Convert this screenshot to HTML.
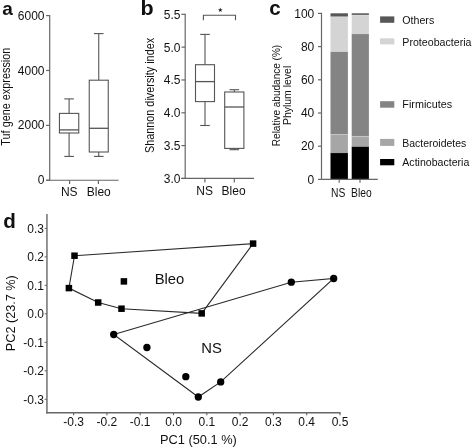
<!DOCTYPE html>
<html><head><meta charset="utf-8"><style>
html,body{margin:0;padding:0;background:#fff;width:472px;height:448px;overflow:hidden}
svg{display:block;font-family:"Liberation Sans",sans-serif;filter:grayscale(1)}
text{fill:#111111}
</style></head><body>
<svg width="472" height="448" viewBox="0 0 472 448">
<line x1="49.7" y1="15" x2="49.7" y2="180.85" stroke="#666666" stroke-width="1.2"/>
<line x1="46.1" y1="15.6" x2="49.7" y2="15.6" stroke="#666666" stroke-width="1.2"/>
<line x1="46.1" y1="70.48" x2="49.7" y2="70.48" stroke="#666666" stroke-width="1.2"/>
<line x1="46.1" y1="125.37" x2="49.7" y2="125.37" stroke="#666666" stroke-width="1.2"/>
<line x1="46.1" y1="180.25" x2="49.7" y2="180.25" stroke="#666666" stroke-width="1.2"/>
<line x1="46.1" y1="180.25" x2="118.6" y2="180.25" stroke="#666666" stroke-width="1.2"/>
<line x1="69.6" y1="180.25" x2="69.6" y2="183.9" stroke="#666666" stroke-width="1.2"/>
<line x1="98.4" y1="180.25" x2="98.4" y2="183.9" stroke="#666666" stroke-width="1.2"/>
<rect x="59.45" y="113.4" width="19.3" height="19.6" fill="none" stroke="#555555" stroke-width="1.1"/>
<line x1="59.45" y1="129.9" x2="78.75" y2="129.9" stroke="#555555" stroke-width="1.3"/>
<line x1="69.1" y1="98.9" x2="69.1" y2="113.4" stroke="#555555" stroke-width="1.1"/>
<line x1="69.1" y1="133" x2="69.1" y2="156.4" stroke="#555555" stroke-width="1.1"/>
<line x1="64.3" y1="98.9" x2="73.9" y2="98.9" stroke="#555555" stroke-width="1.1"/>
<line x1="64.3" y1="156.4" x2="73.9" y2="156.4" stroke="#555555" stroke-width="1.1"/>
<rect x="89.25" y="80.2" width="19" height="71.8" fill="none" stroke="#555555" stroke-width="1.1"/>
<line x1="89.25" y1="128.3" x2="108.25" y2="128.3" stroke="#555555" stroke-width="1.3"/>
<line x1="98.75" y1="33.6" x2="98.75" y2="80.2" stroke="#555555" stroke-width="1.1"/>
<line x1="98.75" y1="152" x2="98.75" y2="156.4" stroke="#555555" stroke-width="1.1"/>
<line x1="93.95" y1="33.6" x2="103.55" y2="33.6" stroke="#555555" stroke-width="1.1"/>
<line x1="93.95" y1="156.4" x2="103.55" y2="156.4" stroke="#555555" stroke-width="1.1"/>
<line x1="185.2" y1="13.7" x2="185.2" y2="179.05" stroke="#666666" stroke-width="1.2"/>
<line x1="181.4" y1="14.3" x2="185.2" y2="14.3" stroke="#666666" stroke-width="1.2"/>
<line x1="181.4" y1="47.13" x2="185.2" y2="47.13" stroke="#666666" stroke-width="1.2"/>
<line x1="181.4" y1="79.96" x2="185.2" y2="79.96" stroke="#666666" stroke-width="1.2"/>
<line x1="181.4" y1="112.79" x2="185.2" y2="112.79" stroke="#666666" stroke-width="1.2"/>
<line x1="181.4" y1="145.62" x2="185.2" y2="145.62" stroke="#666666" stroke-width="1.2"/>
<line x1="181.4" y1="178.45" x2="185.2" y2="178.45" stroke="#666666" stroke-width="1.2"/>
<line x1="181.4" y1="178.45" x2="254" y2="178.45" stroke="#666666" stroke-width="1.2"/>
<line x1="204.9" y1="178.45" x2="204.9" y2="182.4" stroke="#666666" stroke-width="1.2"/>
<line x1="234.3" y1="178.45" x2="234.3" y2="182.4" stroke="#666666" stroke-width="1.2"/>
<rect x="195.5" y="64.7" width="19" height="36.9" fill="none" stroke="#555555" stroke-width="1.1"/>
<line x1="195.5" y1="81.6" x2="214.5" y2="81.6" stroke="#555555" stroke-width="1.3"/>
<line x1="205" y1="34.4" x2="205" y2="64.7" stroke="#555555" stroke-width="1.1"/>
<line x1="205" y1="101.6" x2="205" y2="125.5" stroke="#555555" stroke-width="1.1"/>
<line x1="200.2" y1="34.4" x2="209.8" y2="34.4" stroke="#555555" stroke-width="1.1"/>
<line x1="200.2" y1="125.5" x2="209.8" y2="125.5" stroke="#555555" stroke-width="1.1"/>
<rect x="224.7" y="92" width="19.2" height="56.4" fill="none" stroke="#555555" stroke-width="1.1"/>
<line x1="224.7" y1="107" x2="243.9" y2="107" stroke="#555555" stroke-width="1.3"/>
<line x1="234.3" y1="89.7" x2="234.3" y2="92" stroke="#555555" stroke-width="1.1"/>
<line x1="234.3" y1="148.4" x2="234.3" y2="149.7" stroke="#555555" stroke-width="1.1"/>
<line x1="229.5" y1="89.7" x2="239.1" y2="89.7" stroke="#555555" stroke-width="1.1"/>
<line x1="229.5" y1="149.7" x2="239.1" y2="149.7" stroke="#555555" stroke-width="1.1"/>
<path d="M203.4 20.3 V15.3 H235.5 V20.3" fill="none" stroke="#555555" stroke-width="1.1"/>
<polygon points="220.30,7.50 220.92,9.15 222.68,9.23 221.30,10.32 221.77,12.02 220.30,11.05 218.83,12.02 219.30,10.32 217.92,9.23 219.68,9.15" fill="#222"/>
<rect x="330.5" y="13.3" width="17.4" height="3.5" fill="#575757"/>
<rect x="330.5" y="16.8" width="17.4" height="34.8" fill="#d4d4d4"/>
<rect x="330.5" y="51.6" width="17.4" height="82.9" fill="#848484"/>
<rect x="330.5" y="134.5" width="17.4" height="18.3" fill="#a6a6a6"/>
<rect x="330.5" y="152.8" width="17.4" height="26.4" fill="#000000"/>
<rect x="330.5" y="16.4" width="17.4" height="0.8" fill="#fff" fill-opacity="0.3"/>
<rect x="330.5" y="51.2" width="17.4" height="0.8" fill="#fff" fill-opacity="0.3"/>
<rect x="330.5" y="134.1" width="17.4" height="0.8" fill="#fff" fill-opacity="0.3"/>
<rect x="330.5" y="152.4" width="17.4" height="0.8" fill="#fff" fill-opacity="0.3"/>
<rect x="351.7" y="13.3" width="17.2" height="1.7" fill="#575757"/>
<rect x="351.7" y="15" width="17.2" height="18.8" fill="#d4d4d4"/>
<rect x="351.7" y="33.8" width="17.2" height="102.5" fill="#848484"/>
<rect x="351.7" y="136.3" width="17.2" height="10.2" fill="#a6a6a6"/>
<rect x="351.7" y="146.5" width="17.2" height="32.7" fill="#000000"/>
<rect x="351.7" y="14.6" width="17.2" height="0.8" fill="#fff" fill-opacity="0.3"/>
<rect x="351.7" y="33.4" width="17.2" height="0.8" fill="#fff" fill-opacity="0.3"/>
<rect x="351.7" y="135.9" width="17.2" height="0.8" fill="#fff" fill-opacity="0.3"/>
<rect x="351.7" y="146.1" width="17.2" height="0.8" fill="#fff" fill-opacity="0.3"/>
<line x1="321.5" y1="12.8" x2="321.5" y2="179.4" stroke="#666666" stroke-width="1.2"/>
<line x1="318" y1="13.4" x2="321.5" y2="13.4" stroke="#666666" stroke-width="1.2"/>
<line x1="318" y1="46.6" x2="321.5" y2="46.6" stroke="#666666" stroke-width="1.2"/>
<line x1="318" y1="79.8" x2="321.5" y2="79.8" stroke="#666666" stroke-width="1.2"/>
<line x1="318" y1="113" x2="321.5" y2="113" stroke="#666666" stroke-width="1.2"/>
<line x1="318" y1="146.2" x2="321.5" y2="146.2" stroke="#666666" stroke-width="1.2"/>
<line x1="318" y1="179.4" x2="321.5" y2="179.4" stroke="#666666" stroke-width="1.2"/>
<line x1="321.5" y1="179.4" x2="377.8" y2="179.4" stroke="#666666" stroke-width="1.2"/>
<line x1="339.2" y1="179.4" x2="339.2" y2="182.8" stroke="#666666" stroke-width="1.2"/>
<line x1="360" y1="179.4" x2="360" y2="182.8" stroke="#666666" stroke-width="1.2"/>
<rect x="380.1" y="16.4" width="14.2" height="6.4" fill="#575757"/>
<rect x="380.1" y="38.3" width="14.2" height="6.1" fill="#d4d4d4"/>
<rect x="380.1" y="101.2" width="14.2" height="6.5" fill="#848484"/>
<rect x="380.1" y="138.9" width="14.2" height="7" fill="#a6a6a6"/>
<rect x="380.1" y="159" width="14.2" height="6.3" fill="#000000"/>
<line x1="46.95" y1="213.9" x2="46.95" y2="413.5" stroke="#666666" stroke-width="1.4"/>
<line x1="46.25" y1="412.8" x2="340.6" y2="412.8" stroke="#666666" stroke-width="1.4"/>
<line x1="44.6" y1="228.41" x2="46.95" y2="228.41" stroke="#666666" stroke-width="1.0"/>
<line x1="44.6" y1="256.89" x2="46.95" y2="256.89" stroke="#666666" stroke-width="1.0"/>
<line x1="44.6" y1="285.37" x2="46.95" y2="285.37" stroke="#666666" stroke-width="1.0"/>
<line x1="44.6" y1="313.85" x2="46.95" y2="313.85" stroke="#666666" stroke-width="1.0"/>
<line x1="44.6" y1="342.33" x2="46.95" y2="342.33" stroke="#666666" stroke-width="1.0"/>
<line x1="44.6" y1="370.81" x2="46.95" y2="370.81" stroke="#666666" stroke-width="1.0"/>
<line x1="44.6" y1="399.29" x2="46.95" y2="399.29" stroke="#666666" stroke-width="1.0"/>
<line x1="73.6" y1="412.8" x2="73.6" y2="415.2" stroke="#666666" stroke-width="1.2"/>
<line x1="106.9" y1="412.8" x2="106.9" y2="415.2" stroke="#666666" stroke-width="1.2"/>
<line x1="140.2" y1="412.8" x2="140.2" y2="415.2" stroke="#666666" stroke-width="1.2"/>
<line x1="173.5" y1="412.8" x2="173.5" y2="415.2" stroke="#666666" stroke-width="1.2"/>
<line x1="206.8" y1="412.8" x2="206.8" y2="415.2" stroke="#666666" stroke-width="1.2"/>
<line x1="240.1" y1="412.8" x2="240.1" y2="415.2" stroke="#666666" stroke-width="1.2"/>
<line x1="273.4" y1="412.8" x2="273.4" y2="415.2" stroke="#666666" stroke-width="1.2"/>
<line x1="306.7" y1="412.8" x2="306.7" y2="415.2" stroke="#666666" stroke-width="1.2"/>
<line x1="340" y1="412.8" x2="340" y2="415.2" stroke="#666666" stroke-width="1.2"/>
<polygon points="74.5,255.7 253.1,243.6 201.7,313.4 121.5,308.7 98.2,302.5 68.9,288.1" fill="none" stroke="#2a2a2a" stroke-width="1.1"/>
<polygon points="113.7,334.5 291.3,282.2 333.7,278.5 220.7,381.9 198.3,397.0" fill="none" stroke="#2a2a2a" stroke-width="1.1"/>
<rect x="71.25" y="252.45" width="6.5" height="6.5" fill="#000"/>
<rect x="249.85" y="240.35" width="6.5" height="6.5" fill="#000"/>
<rect x="198.45" y="310.15" width="6.5" height="6.5" fill="#000"/>
<rect x="118.25" y="305.45" width="6.5" height="6.5" fill="#000"/>
<rect x="94.95" y="299.25" width="6.5" height="6.5" fill="#000"/>
<rect x="65.65" y="284.85" width="6.5" height="6.5" fill="#000"/>
<rect x="120.65" y="278.15" width="6.5" height="6.5" fill="#000"/>
<circle cx="113.7" cy="334.5" r="3.65" fill="#000"/>
<circle cx="291.3" cy="282.2" r="3.65" fill="#000"/>
<circle cx="333.7" cy="278.5" r="3.65" fill="#000"/>
<circle cx="220.7" cy="381.9" r="3.65" fill="#000"/>
<circle cx="198.3" cy="397.0" r="3.65" fill="#000"/>
<circle cx="146.9" cy="347.5" r="3.65" fill="#000"/>
<circle cx="185.8" cy="376.7" r="3.65" fill="#000"/>
<text x="44.5" y="19.7" font-size="12" text-anchor="end">6000</text>
<text x="44.5" y="74.58" font-size="12" text-anchor="end">4000</text>
<text x="44.5" y="129.47" font-size="12" text-anchor="end">2000</text>
<text x="44.5" y="184.35" font-size="12" text-anchor="end">0</text>
<text x="180.4" y="18.7" font-size="12" text-anchor="end">5.5</text>
<text x="180.4" y="51.53" font-size="12" text-anchor="end">5.0</text>
<text x="180.4" y="84.36" font-size="12" text-anchor="end">4.5</text>
<text x="180.4" y="117.19" font-size="12" text-anchor="end">4.0</text>
<text x="180.4" y="150.02" font-size="12" text-anchor="end">3.5</text>
<text x="180.4" y="182.85" font-size="12" text-anchor="end">3.0</text>
<text x="314.3" y="17.6" font-size="12" text-anchor="end">100</text>
<text x="314.3" y="50.8" font-size="12" text-anchor="end">80</text>
<text x="314.3" y="84" font-size="12" text-anchor="end">60</text>
<text x="314.3" y="117.2" font-size="12" text-anchor="end">40</text>
<text x="314.3" y="150.4" font-size="12" text-anchor="end">20</text>
<text x="314.3" y="183.6" font-size="12" text-anchor="end">0</text>
<text x="44" y="232.81" font-size="12" text-anchor="end">0.3</text>
<text x="44" y="261.29" font-size="12" text-anchor="end">0.2</text>
<text x="44" y="289.77" font-size="12" text-anchor="end">0.1</text>
<text x="44" y="318.25" font-size="12" text-anchor="end">0.0</text>
<text x="44" y="346.73" font-size="12" text-anchor="end">-0.1</text>
<text x="44" y="375.21" font-size="12" text-anchor="end">-0.2</text>
<text x="44" y="403.69" font-size="12" text-anchor="end">-0.3</text>
<text x="73.6" y="425.8" font-size="12" text-anchor="middle">-0.3</text>
<text x="106.9" y="425.8" font-size="12" text-anchor="middle">-0.2</text>
<text x="140.2" y="425.8" font-size="12" text-anchor="middle">-0.1</text>
<text x="173.5" y="425.8" font-size="12" text-anchor="middle">0.0</text>
<text x="206.8" y="425.8" font-size="12" text-anchor="middle">0.1</text>
<text x="240.1" y="425.8" font-size="12" text-anchor="middle">0.2</text>
<text x="273.4" y="425.8" font-size="12" text-anchor="middle">0.3</text>
<text x="306.7" y="425.8" font-size="12" text-anchor="middle">0.4</text>
<text x="340" y="425.8" font-size="12" text-anchor="middle">0.5</text>
<text transform="translate(2.31,14.78)" font-size="19" font-weight="bold">a</text>
<text transform="translate(140.57,14.90) scale(1.05,1)" font-size="20.5" font-weight="bold">b</text>
<text transform="translate(269.15,14.82) scale(1.03,1)" font-size="20" font-weight="bold">c</text>
<text transform="translate(3.29,227.70) scale(0.98,1)" font-size="21" font-weight="bold">d</text>
<text transform="translate(9.76,145.65) scale(1,0.905) rotate(-90)" font-size="12">Tuf gene expression</text>
<text transform="translate(154.41,153.11) scale(1,0.905) rotate(-90)" font-size="12">Shannon diversity index</text>
<text transform="translate(279.56,146.16) scale(1,0.88) rotate(-90)" font-size="11.4">Relative abudance (%)</text>
<text transform="translate(290.90,125.11) scale(1,0.92) rotate(-90)" font-size="11.4">Phylum level</text>
<text transform="translate(14.54,351.19) scale(1,0.975) rotate(-90)" font-size="13">PC2 (23.7 %)</text>
<text transform="translate(159.98,443.98) scale(0.985,1)" font-size="13">PC1 (50.1 %)</text>
<text transform="translate(154.64,284.08) scale(1.06,1)" font-size="14">Bleo</text>
<text transform="translate(201.35,352.81) scale(1.06,1)" font-size="14">NS</text>
<text transform="translate(60.94,195.71)" font-size="12">NS</text>
<text transform="translate(86.77,195.80)" font-size="12">Bleo</text>
<text transform="translate(196.25,194.75)" font-size="12">NS</text>
<text transform="translate(221.60,194.85)" font-size="12">Bleo</text>
<text transform="translate(331.06,196.59) scale(0.86,1)" font-size="12">NS</text>
<text transform="translate(351.08,196.60) scale(0.86,1)" font-size="12">Bleo</text>
<text transform="translate(402.30,23.83) scale(0.968,1)" font-size="11">Others</text>
<text transform="translate(402.30,45.64) scale(0.968,1)" font-size="11">Proteobacteria</text>
<text transform="translate(402.30,107.59) scale(0.985,1)" font-size="11">Firmicutes</text>
<text transform="translate(402.30,146.60) scale(0.952,1)" font-size="11">Bacteroidetes</text>
<text transform="translate(402.30,165.80) scale(0.962,1)" font-size="11">Actinobacteria</text>
</svg>
</body></html>
